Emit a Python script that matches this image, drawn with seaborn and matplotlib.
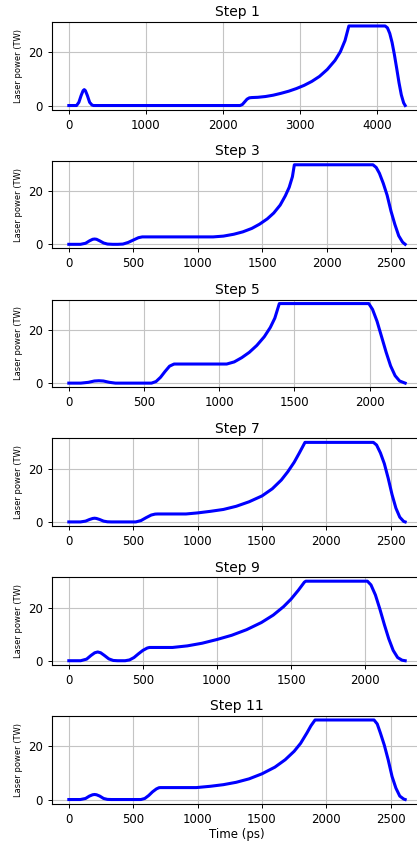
import matplotlib
matplotlib.use("Agg")
import matplotlib.pyplot as plt
import seaborn as sns

# laser pulse shapes (time in ps, power in TW)
titles = ["Step 1", "Step 3", "Step 5", "Step 7", "Step 9", "Step 11"]

t1 = [0, 100, 130, 160, 185, 200, 215, 240, 270, 300, 320,
      2220, 2250, 2280, 2310, 2340, 2370,
      2450, 2550, 2650, 2750, 2850, 2950, 3050, 3150, 3250, 3350, 3450, 3520, 3580, 3630,
      4100, 4130, 4160, 4190, 4220, 4250, 4280, 4310, 4340, 4360]
p1 = [0, 0, 1.2, 3.8, 5.6, 6.0, 5.6, 3.8, 1.2, 0.2, 0,
      0, 0.4, 1.4, 2.4, 2.9, 3.0,
      3.1, 3.4, 3.9, 4.6, 5.4, 6.4, 7.6, 9.1, 11.0, 13.6, 17.0, 20.3, 24.5, 30,
      30, 29.3, 27.2, 23.8, 19.2, 14.0, 8.6, 4.0, 1.0, 0]

t3 = [0, 90, 130, 160, 185, 200, 215, 240, 270, 300, 340, 380, 420, 460, 500, 540, 570,
      1120, 1200, 1280, 1350, 1420, 1480, 1540, 1590, 1640, 1680, 1710, 1735, 1750,
      2360, 2385, 2410, 2440, 2470, 2500, 2530, 2560, 2590, 2610]
p3 = [0, 0, 0.4, 1.3, 1.9, 2.0, 1.9, 1.3, 0.5, 0.1, 0, 0, 0.1, 0.7, 1.6, 2.5, 2.8,
      2.8, 3.1, 3.8, 4.7, 6.0, 7.6, 9.6, 11.8, 14.8, 18.3, 21.5, 25.5, 30,
      30, 29, 26.8, 23, 18.5, 12.5, 7.5, 3.2, 0.8, 0]

t5 = [0, 80, 130, 170, 200, 230, 270, 310,
      550, 580, 610, 640, 670, 700, 710,
      1050, 1100, 1150, 1200, 1250, 1300, 1340, 1370, 1400,
      1995, 2020, 2050, 2080, 2110, 2140, 2170, 2200, 2237]
p5 = [0, 0, 0.3, 0.8, 0.9, 0.8, 0.3, 0,
      0, 0.6, 2.2, 4.4, 6.4, 7.2, 7.2,
      7.2, 8.0, 9.6, 11.6, 14.2, 17.5, 21.0, 24.5, 30,
      30, 27.8, 23.3, 17.5, 11.7, 6.5, 2.8, 0.8, 0]

t7 = [0, 90, 130, 160, 185, 200, 215, 240, 270, 300, 330,
      520, 560, 600, 640, 670, 690,
      910, 1000, 1100, 1200, 1300, 1400, 1500, 1580, 1650, 1700, 1750, 1790, 1834,
      2365, 2390, 2420, 2450, 2480, 2510, 2540, 2570, 2600, 2612]
p7 = [0, 0, 0.3, 0.9, 1.3, 1.4, 1.3, 0.9, 0.3, 0.05, 0,
      0, 0.5, 1.6, 2.6, 2.95, 3.0,
      3.0, 3.4, 4.0, 4.7, 5.9, 7.6, 9.8, 12.5, 15.8, 18.9, 22.5, 26, 30,
      30, 29, 26, 22, 16.5, 10.3, 5.2, 1.8, 0.2, 0]

t9 = [0, 80, 120, 150, 175, 195, 215, 240, 270, 300, 330,
      380, 410, 440, 470, 500, 530, 545,
      700, 800, 900, 1000, 1100, 1200, 1300, 1380, 1450, 1500, 1550, 1590, 1600,
      2016, 2040, 2070, 2100, 2130, 2160, 2190, 2220, 2250, 2271]
p9 = [0, 0, 0.6, 2.0, 3.0, 3.3, 3.0, 2.0, 0.7, 0.1, 0,
      0, 0.3, 1.2, 2.6, 3.9, 4.8, 5.0,
      5.0, 5.6, 6.6, 8.0, 9.6, 11.7, 14.4, 17.2, 20.4, 23.2, 26.6, 29.6, 30,
      30, 28.6, 24.8, 19.5, 13.7, 8.3, 3.9, 1.2, 0.2, 0]

t11 = [0, 90, 130, 160, 185, 200, 215, 240, 270, 300, 330,
       560, 590, 620, 650, 680, 700, 710,
       990, 1100, 1200, 1300, 1400, 1500, 1600, 1680, 1750, 1800, 1850, 1880, 1912,
       2370, 2395, 2420, 2450, 2480, 2510, 2540, 2570, 2600, 2612]
p11 = [0, 0, 0.4, 1.3, 1.8, 1.9, 1.8, 1.3, 0.4, 0.05, 0,
       0, 0.4, 1.5, 2.9, 4.0, 4.45, 4.5,
       4.5, 5.0, 5.6, 6.5, 7.8, 9.7, 12.2, 15.0, 18.2, 21.2, 25.2, 27.8, 30,
       30, 28.5, 25, 20.5, 15, 8.7, 4.3, 1.3, 0.2, 0]

times = [t1, t3, t5, t7, t9, t11]
powers = [p1, p3, p5, p7, p9, p11]
xsteps = [1000, 500, 500, 500, 500, 500]

W, H = 417, 842
fig = plt.figure(figsize=(W / 100, H / 100), dpi=100)

for i in range(6):
    top = 22 + 138.8 * i
    ax = fig.add_axes([52 / W, 1 - (top + 87.5) / H, 370 / W, 87.5 / H])
    sns.lineplot(x=times[i], y=powers[i], ax=ax, color="blue", linewidth=2.2)
    ax.grid(True, color="#c4c4c4", linewidth=0.8)
    ax.set_axisbelow(True)
    ax.set_yticks([0, 20])
    ax.xaxis.set_major_locator(matplotlib.ticker.MultipleLocator(xsteps[i]))
    ax.tick_params(labelsize=8.5, length=3, width=0.7)
    ax.set_title(titles[i], fontsize=10, pad=4)
    ax.set_ylabel("Laser power (TW)", fontsize=6)
    for s in ax.spines.values():
        s.set_linewidth(0.8)
    if i == 5:
        ax.set_xlabel("Time (ps)", fontsize=8.5, labelpad=2)

fig.savefig("out.png", dpi=100)
